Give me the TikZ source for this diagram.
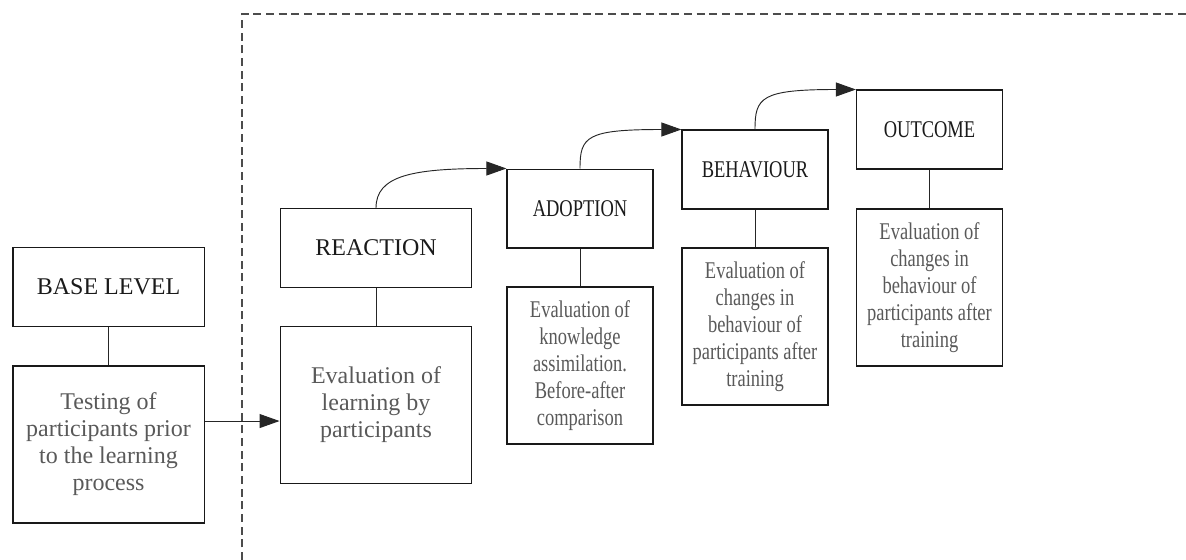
\documentclass[tikz,border=0pt]{standalone}
\usepackage{fontspec}
\setmainfont{Liberation Serif}
\newfontfamily\condfont[FakeStretch=0.77]{Liberation Serif}
\usetikzlibrary{arrows.meta,calc}
\definecolor{ttl}{HTML}{1A1A1A}
\definecolor{bdy}{HTML}{595959}
\tikzset{
  box/.style={draw=black!90, line width=1.1pt, rectangle, inner sep=0pt, align=center,
    font=\fontsize{18pt}{20.25pt}\selectfont},
  ttlbox/.style={box, text=ttl, minimum height=58.9pt},
  evbox/.style={box, text=bdy, minimum height=117.75pt},
  wide/.style={minimum width=143.6pt},
  narrow/.style={minimum width=109.3pt, font=\fontsize{18pt}{20.25pt}\selectfont\condfont},
  link/.style={line width=0.7pt, draw=black!85},
  arr/.style={link, -{Triangle[length=15pt, width=10.5pt]}},
  dashline/.style={line width=0.8pt, draw=black!70, dash pattern=on 6pt off 3.5pt}
}
\begin{document}
\begin{tikzpicture}[x=0.75pt, y=-0.75pt]
\useasboundingbox (0,0) rectangle (1186,560);
\draw[dashline] (242,560) -- (242,14) -- (1186,14);

\node[ttlbox, wide] (base) at (108.5,287) {BASE LEVEL};
\node[evbox, wide] (test) at (108.5,444.5) {Testing of\\participants prior\\to the learning\\process};

\node[ttlbox, wide] (reac) at (376,248) {REACTION};
\node[evbox, wide] (reacE) at (376,405) {Evaluation of\\learning by\\participants};

\node[ttlbox, narrow] (adop) at (580,208.5) {ADOPTION};
\node[evbox, narrow] (adopE) at (580,365.5) {Evaluation of\\knowledge\\assimilation.\\Before-after\\comparison};

\node[ttlbox, narrow] (beh) at (755,169.5) {BEHAVIOUR};
\node[evbox, narrow] (behE) at (755,326.5) {Evaluation of\\changes in\\behaviour of\\participants after\\training};

\node[ttlbox, narrow] (out) at (929.5,129.5) {OUTCOME};
\node[evbox, narrow] (outE) at (929.5,287.5) {Evaluation of\\changes in\\behaviour of\\participants after\\training};

\draw[link] (base.south) -- (test.north);
\draw[link] (reac.south) -- (reacE.north);
\draw[link] (adop.south) -- (adopE.north);
\draw[link] (beh.south) -- (behE.north);
\draw[link] (out.south) -- (outE.north);

\draw[arr] ([yshift=17.6pt]test.east) -- ([yshift=17.6pt]test.east -| reacE.west);
\draw[arr] (reac.north) .. controls +(0,-32) and +(-95,0) .. (adop.north west);
\draw[arr] (adop.north) .. controls +(0,-32) and +(-95,0) .. (beh.north west);
\draw[arr] (beh.north) .. controls +(0,-32) and +(-95,0) .. (out.north west);
\end{tikzpicture}
\end{document}
